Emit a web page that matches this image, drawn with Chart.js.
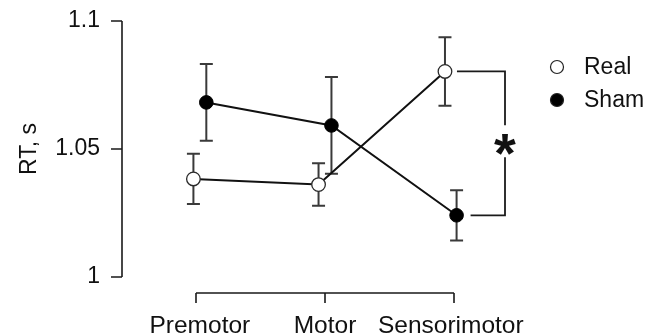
<!DOCTYPE html>
<html>
<head>
<meta charset="utf-8">
<script src="https://cdn.jsdelivr.net/npm/chart.js@4.4.1/dist/chart.umd.min.js"></script>
<style>
  html, body { margin: 0; padding: 0; background: #fff; }
  #wrap { width: 660px; height: 335px; }
</style>
</head>
<body>
<div id="wrap"><canvas id="rtChart" width="660" height="335"></canvas></div>
<script>
// Datos
const categories = ['Premotor', 'Motor', 'Sensorimotor'];
const realRT = [1.0383, 1.0361, 1.0803];
const realSE = [0.0098, 0.0083, 0.0134];
const shamRT = [1.0682, 1.0592, 1.0241];
const shamSE = [0.0150, 0.0189, 0.0098];
// desplazamiento horizontal de cada punto respecto a su categoría
const realShift = [-0.02, -0.05, -0.07];
const shamShift = [0.08, 0.05, 0.02];
const yTicks = [1, 1.05, 1.1];
const yTitle = 'RT, s';
const seriesNames = ['Real', 'Sham'];
const sigMark = '*';

const FAMILY = '"Liberation Sans", Arial, sans-serif';
const FONT = '23px ' + FAMILY;
const TEXT = '#111';

function toPoints(values, shift) {
    return values.map((v, i) => ({ x: i + shift[i], y: v }));
}

// Barras de error, ejes, leyenda y corchete de significancia
const figurePlugin = {
    id: 'figure',
    beforeDatasetsDraw(chart) {
        const ctx = chart.ctx;
        const xs = chart.scales.x, ys = chart.scales.y;
        ctx.save();
        ctx.strokeStyle = '#3a3a3a';
        ctx.lineWidth = 2;
        chart.data.datasets.forEach(ds => {
            ds.data.forEach((p, i) => {
                const px = xs.getPixelForValue(p.x);
                const top = ys.getPixelForValue(p.y + ds.errors[i]);
                const bot = ys.getPixelForValue(p.y - ds.errors[i]);
                ctx.beginPath();
                ctx.moveTo(px, top); ctx.lineTo(px, bot);
                ctx.moveTo(px - 6.5, top); ctx.lineTo(px + 6.5, top);
                ctx.moveTo(px - 6.5, bot); ctx.lineTo(px + 6.5, bot);
                ctx.stroke();
            });
        });
        ctx.restore();
    },
    afterDraw(chart) {
        const ctx = chart.ctx;
        const xs = chart.scales.x, ys = chart.scales.y;
        const area = chart.chartArea;
        ctx.save();
        ctx.strokeStyle = '#1a1a1a';
        ctx.fillStyle = TEXT;
        ctx.lineWidth = 1.6;
        ctx.font = FONT;

        // eje Y
        const yTop = ys.getPixelForValue(yTicks[yTicks.length - 1]);
        const yBot = ys.getPixelForValue(yTicks[0]);
        ctx.beginPath();
        ctx.moveTo(area.left, yTop); ctx.lineTo(area.left, yBot);
        yTicks.forEach(t => {
            const py = ys.getPixelForValue(t);
            ctx.moveTo(area.left - 11, py); ctx.lineTo(area.left, py);
        });
        ctx.stroke();
        ctx.textAlign = 'right';
        ctx.textBaseline = 'middle';
        yTicks.forEach(t => {
            ctx.fillText(String(+t.toFixed(2)), area.left - 22, ys.getPixelForValue(t));
        });

        // título del eje Y
        ctx.save();
        ctx.translate(36, (yTop + yBot) / 2);
        ctx.rotate(-Math.PI / 2);
        ctx.textAlign = 'center';
        ctx.textBaseline = 'alphabetic';
        ctx.fillText(yTitle, 0, 0);
        ctx.restore();

        // eje X separado del área
        const axisY = area.bottom + 16;
        const x0 = xs.getPixelForValue(0);
        const x2 = xs.getPixelForValue(categories.length - 1);
        ctx.beginPath();
        ctx.moveTo(x0, axisY); ctx.lineTo(x2, axisY);
        categories.forEach((c, i) => {
            const px = xs.getPixelForValue(i);
            ctx.moveTo(px, axisY); ctx.lineTo(px, axisY + 10);
        });
        ctx.stroke();
        ctx.font = '24.5px ' + FAMILY;
        ctx.textAlign = 'center';
        ctx.textBaseline = 'alphabetic';
        categories.forEach((c, i) => {
            const px = xs.getPixelForValue(i + (realShift[i] + shamShift[i]) / 2);
            ctx.fillText(c, px, axisY + 40);
        });

        // leyenda
        ctx.font = FONT;
        chart.data.datasets.forEach((ds, i) => {
            const ly = 67 + i * 33;
            ctx.beginPath();
            ctx.arc(557, ly, 6.5, 0, Math.PI * 2);
            ctx.fillStyle = ds.pointBackgroundColor;
            ctx.fill();
            ctx.lineWidth = 1.2;
            ctx.strokeStyle = '#222';
            ctx.stroke();
            ctx.fillStyle = TEXT;
            ctx.textAlign = 'left';
            ctx.textBaseline = 'middle';
            ctx.fillText(ds.label, 584, ly + 1);
        });

        // corchete de significancia en Sensorimotor
        const last = categories.length - 1;
        const rX = xs.getPixelForValue(last + realShift[last]);
        const rY = ys.getPixelForValue(realRT[last]);
        const sX = xs.getPixelForValue(last + shamShift[last]);
        const sY = ys.getPixelForValue(shamRT[last]);
        const bx = xs.getPixelForValue(last) + 51;
        const mid = (rY + sY) / 2;
        ctx.strokeStyle = '#1a1a1a';
        ctx.lineWidth = 1.8;
        ctx.beginPath();
        ctx.moveTo(rX + 12, rY); ctx.lineTo(bx, rY); ctx.lineTo(bx, mid - 18);
        ctx.moveTo(bx, mid + 14); ctx.lineTo(bx, sY); ctx.lineTo(sX + 14, sY);
        ctx.stroke();
        ctx.font = 'bold 56px ' + FAMILY;
        ctx.textAlign = 'center';
        ctx.textBaseline = 'alphabetic';
        const m = ctx.measureText(sigMark);
        const base = mid + 1 + (m.actualBoundingBoxAscent - m.actualBoundingBoxDescent) / 2;
        ctx.fillStyle = TEXT;
        ctx.fillText(sigMark, bx, base);
        ctx.restore();
    }
};

window.onload = function () {
    const ctx = document.getElementById('rtChart').getContext('2d');
    new Chart(ctx, {
        type: 'scatter',
        data: {
            datasets: [{
                label: seriesNames[0],
                data: toPoints(realRT, realShift),
                errors: realSE,
                showLine: true,
                borderColor: '#111',
                borderWidth: 2,
                pointRadius: 6.8,
                pointBackgroundColor: '#ffffff',
                pointBorderColor: '#2a2a2a',
                pointBorderWidth: 1.3,
                clip: false
            }, {
                label: seriesNames[1],
                data: toPoints(shamRT, shamShift),
                errors: shamSE,
                showLine: true,
                borderColor: '#111',
                borderWidth: 2,
                pointRadius: 6.8,
                pointBackgroundColor: '#000000',
                pointBorderColor: '#000000',
                pointBorderWidth: 1,
                clip: false
            }]
        },
        options: {
            responsive: false,
            animation: false,
            layout: { padding: { left: 122, right: 140, top: 21, bottom: 58 } },
            plugins: { legend: { display: false }, tooltip: { enabled: false } },
            scales: {
                x: { type: 'linear', display: false, min: -0.5736, max: 2.5116 },
                y: { type: 'linear', display: false, min: 1, max: 1.1 }
            }
        },
        plugins: [figurePlugin]
    });
};
</script>
</body>
</html>
